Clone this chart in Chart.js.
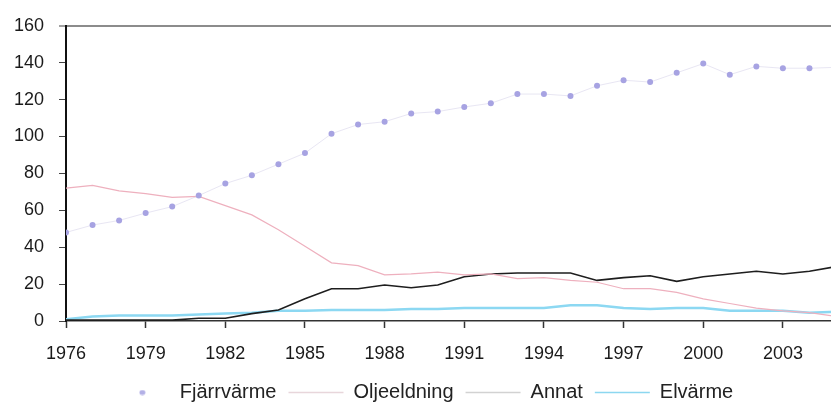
<!DOCTYPE html>
<html><head><meta charset="utf-8">
<script src="https://cdn.jsdelivr.net/npm/chart.js@4/dist/chart.umd.min.js"></script>
<style>
html,body{margin:0;padding:0;background:#fff;overflow:hidden;}
#wrap{width:840px;height:407px;position:relative;}
</style></head><body>
<div id="wrap"><canvas id="c"></canvas></div>
<script>
const years = [1976,1977,1978,1979,1980,1981,1982,1983,1984,1985,1986,1987,1988,1989,1990,1991,1992,1993,1994,1995,1996,1997,1998,1999,2000,2001,2002,2003,2004,2005];
const fjarrvarme = [48,52,54.5,58.5,62,68,74.5,79,85,91,101.5,106.5,108,112.5,113.5,116,118,123,123,122,127.5,130.5,129.5,134.5,139.5,133.5,138,137,137,137.5];
const oljeeldning = [72,73.5,70.5,69,67,67.5,62.5,57.5,49.5,40.5,31.5,30,25,25.5,26.5,25,25.5,23,23.5,22,21,17.5,17.5,15.5,12,9.5,7,5.5,4.5,2.5];
const annat = [0.5,0.5,0.5,0.5,0.5,1.5,1.5,4,6,12,17.5,17.5,19.5,18,19.5,24,25.5,26,26,26,22,23.5,24.5,21.5,24,25.5,27,25.5,27,29.5];
const elvarme = [1,2.5,3,3,3,3.5,4,4.5,5.5,5.5,6,6,6,6.5,6.5,7,7,7,7,8.5,8.5,7,6.5,7,7,5.5,5.5,5.5,4.5,5];
const seriesNames = ['Fjärrvärme','Oljeeldning','Annat','Elvärme'];
const xTickYears = [1976,1979,1982,1985,1988,1991,1994,1997,2000,2003];
const yTickValues = [0,20,40,60,80,100,120,140,160];

const FAMILY = "'Liberation Sans', Arial, sans-serif";
const TICKFONT = {family:FAMILY, size:18};
const LEGENDFONT = {family:FAMILY, size:20};
const pts = arr => years.map((yr,i)=>({x:yr, y:arr[i]}));

// small legend dot for the marker-only series
const dot = document.createElement('canvas');
dot.width = 7; dot.height = 6;
(function(){ const g = dot.getContext('2d'); g.fillStyle = '#b3b0e6'; g.beginPath(); g.ellipse(3.5,3,3,2.5,0,0,Math.PI*2); g.fill(); })();

const legendStyles = [
  {pointStyle:dot, fillStyle:'#b3b0e6', strokeStyle:'#b3b0e6', lineWidth:0},
  {pointStyle:'line', fillStyle:'#e8d6db', strokeStyle:'#e8d6db', lineWidth:1.5},
  {pointStyle:'line', fillStyle:'#d2d2d2', strokeStyle:'#d2d2d2', lineWidth:1.5},
  {pointStyle:'line', fillStyle:'#8cd7f0', strokeStyle:'#8cd7f0', lineWidth:1.5}
];

const legendTrim = {
  id:'legendTrim',
  beforeInit(chart){
    const lg = chart.legend;
    if (lg && !lg._trimmed){
      const orig = lg.fit.bind(lg);
      lg.fit = function(){ orig(); this.height -= 5.5; this.minSize && (this.minSize.height = this.height); };
      lg._trimmed = true;
    }
  }
};

new Chart(document.getElementById('c'), {
  type:'line',
  data:{
    datasets:[
      {label:seriesNames[0], data:pts(fjarrvarme), borderColor:'rgba(210,205,232,0.5)', borderWidth:1,
       pointRadius:3, pointStyle:'circle', pointBackgroundColor:'#a7a3e2', pointBorderColor:'#a7a3e2', pointBorderWidth:0},
      {label:seriesNames[1], data:pts(oljeeldning), borderColor:'#eeb0be', borderWidth:1.2, pointRadius:0},
      {label:seriesNames[2], data:pts(annat), borderColor:'#1e1e1e', borderWidth:1.6, pointRadius:0},
      {label:seriesNames[3], data:pts(elvarme), borderColor:'#8cd8f2', borderWidth:2.5, pointRadius:0}
    ]
  },
  plugins:[legendTrim],
  options:{
    responsive:true, maintainAspectRatio:false, animation:false,
    layout:{padding:{left:12, right:4, top:20, bottom:0}},
    plugins:{
      tooltip:{enabled:false},
      legend:{
        position:'bottom',
        labels:{
          usePointStyle:true, pointStyleWidth:55, boxHeight:4, padding:12,
          color:'#222', font:LEGENDFONT,
          generateLabels: chart => chart.data.datasets.map((ds,i)=>Object.assign({
            text: ds.label, datasetIndex:i, hidden:false, fontColor:'#222'
          }, legendStyles[i]))
        }
      }
    },
    scales:{
      x:{
        type:'linear', min:1976, max:2005,
        afterBuildTicks: s => { s.ticks = xTickYears.map(v=>({value:v})); },
        ticks:{callback: v => String(v), color:'#1a1a1a', font:TICKFONT, padding:15, maxRotation:0, autoSkip:false},
        grid:{drawOnChartArea:false, drawTicks:true, tickLength:7, tickColor:'#333', tickWidth:1.5},
        border:{color:'#333', width:1.5},
        afterFit: s => { s.height = 49.5; }
      },
      y:{
        min:0, max:160,
        afterBuildTicks: s => { s.ticks = yTickValues.map(v=>({value:v})); },
        ticks:{color:'#1a1a1a', font:TICKFONT, padding:15},
        grid:{
          color: c => (c.tick && c.tick.value === 160) ? '#8c8c8c' : 'rgba(0,0,0,0)',
          lineWidth: c => (c.tick && c.tick.value === 160) ? 2 : 1,
          drawTicks:true, tickLength:7, tickColor:'#444', tickWidth:1
        },
        border:{color:'#111', width:2},
        afterFit: s => { s.width = 54; }
      }
    }
  }
});
</script>
</body></html>
